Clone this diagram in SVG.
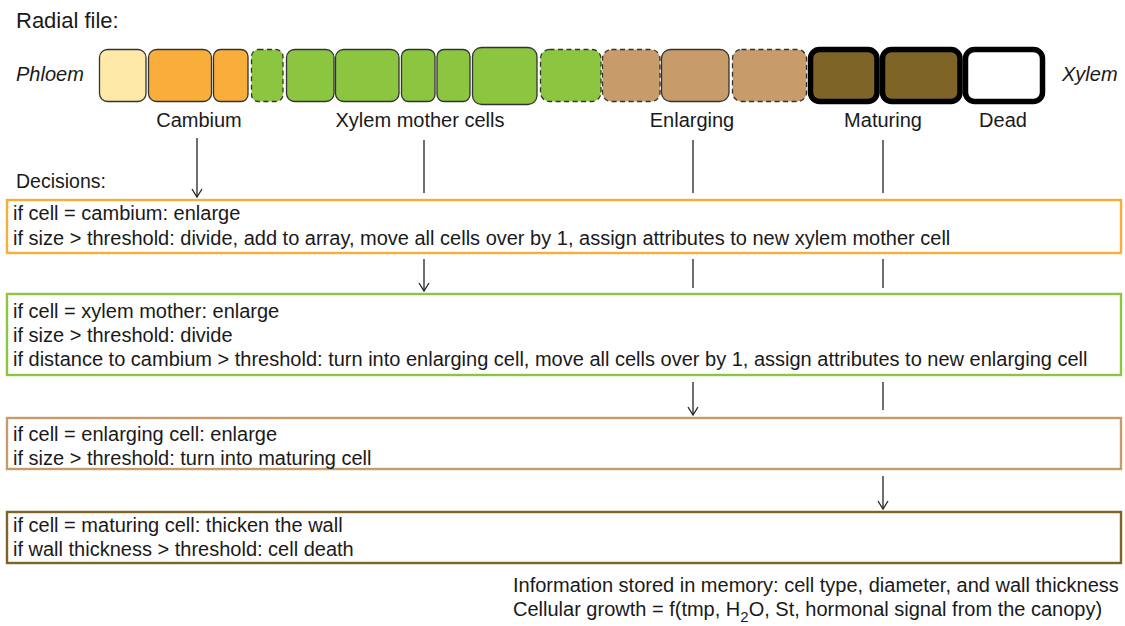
<svg xmlns="http://www.w3.org/2000/svg" width="1125" height="626" viewBox="0 0 1125 626">
  <defs>
    <marker id="arrow" viewBox="0 0 12 12" refX="11" refY="6" markerWidth="12" markerHeight="12" markerUnits="userSpaceOnUse" orient="auto">
      <path d="M3,1 L11,6 L3,11" fill="none" stroke="#222" stroke-width="1.3"/>
    </marker>
    <style>
      text { font-family: "Liberation Sans", Arial, Helvetica, sans-serif; fill: #1a1a1a; }
      .title { font-size: 22px; }
      .side { font-size: 20px; font-style: italic; }
      .lab { font-size: 20px; text-anchor: middle; }
      .rule { font-size: 20px; }
      .cell { stroke: #333; stroke-width: 1.3; }
      .dash { stroke-dasharray: 5 3.5; }
      .thick { stroke: #000; stroke-width: 5.5; }
      .ph { fill: #FEE9A8; }
      .ca { fill: #F9AE3B; }
      .xm { fill: #8CC540; }
      .en { fill: #C89B6B; }
      .ma { fill: #7E6426; }
      .de { fill: #FFFFFF; }
      .box { fill: #FFFFFF; stroke-width: 2.4; }
      .conn line { stroke: #222; stroke-width: 1.3; }
    </style>
  </defs>

  <rect width="1125" height="626" fill="#FFFFFF"/>

  <text class="title" x="16" y="28">Radial file:</text>
  <text class="side" x="16" y="81">Phloem</text>
  <text class="side" x="1062" y="81">Xylem</text>

  <!-- radial file of cells, phloem side to xylem side -->
  <g id="file">
    <rect class="cell ph" x="99.5" y="49.5" width="46.5" height="52" rx="8"/>
    <rect class="cell ca" x="148.5" y="49.5" width="63" height="52" rx="8"/>
    <rect class="cell ca" x="213.5" y="49.5" width="34.5" height="52" rx="7"/>
    <rect class="cell xm dash" x="251.5" y="49.5" width="31.5" height="52" rx="7"/>
    <rect class="cell xm" x="286.5" y="49.5" width="47.5" height="52" rx="8"/>
    <rect class="cell xm" x="335.5" y="49.5" width="63.5" height="52" rx="8"/>
    <rect class="cell xm" x="401.5" y="49.5" width="33.5" height="52" rx="7"/>
    <rect class="cell xm" x="437" y="49.5" width="33" height="52" rx="7"/>
    <rect class="cell xm" x="472.5" y="47.5" width="64.5" height="57" rx="9"/>
    <rect class="cell xm dash" x="540.5" y="49.5" width="60.5" height="52" rx="9"/>
    <rect class="cell en dash" x="602.5" y="49.5" width="57.5" height="52" rx="9"/>
    <rect class="cell en" x="661.5" y="49.5" width="67.5" height="52" rx="9"/>
    <rect class="cell en dash" x="732.5" y="49.5" width="74" height="52" rx="9"/>
    <rect class="thick ma" x="810.5" y="49.5" width="66.5" height="52" rx="9"/>
    <rect class="thick ma" x="882.5" y="49.5" width="77.5" height="52" rx="9"/>
    <rect class="thick de" x="965.5" y="49.5" width="77" height="52" rx="9"/>
  </g>

  <g id="stage-labels">
    <text class="lab" x="199" y="127">Cambium</text>
    <text class="lab" x="420" y="127">Xylem mother cells</text>
    <text class="lab" x="692" y="127">Enlarging</text>
    <text class="lab" x="883" y="127">Maturing</text>
    <text class="lab" x="1003" y="127">Dead</text>
  </g>

  <text class="rule" x="16" y="188" style="font-size:19.5px">Decisions:</text>

  <!-- connectors: stage columns running down through the decision boxes -->
  <g id="connectors" class="conn">
    <line x1="197" y1="138" x2="197" y2="197" marker-end="url(#arrow)"/>
    <line x1="424" y1="140" x2="424" y2="193"/>
    <line x1="693" y1="140" x2="693" y2="193"/>
    <line x1="883" y1="140" x2="883" y2="193"/>

    <line x1="424" y1="259" x2="424" y2="291" marker-end="url(#arrow)"/>
    <line x1="693" y1="259" x2="693" y2="288"/>
    <line x1="883" y1="259" x2="883" y2="288"/>

    <line x1="693" y1="382" x2="693" y2="415" marker-end="url(#arrow)"/>
    <line x1="883" y1="382" x2="883" y2="410"/>

    <line x1="883" y1="476" x2="883" y2="509" marker-end="url(#arrow)"/>
  </g>

  <g id="cambium-rule">
    <rect class="box" x="7" y="200" width="1114" height="53" stroke="#F9AE3B"/>
    <text class="rule" x="13" y="220">if cell = cambium: enlarge</text>
    <text class="rule" x="13" y="245">if size &gt; threshold: divide, add to array, move all cells over by 1, assign attributes to new xylem mother cell</text>
  </g>

  <g id="xylem-mother-rule">
    <rect class="box" x="7" y="294" width="1114" height="81" stroke="#8CC540"/>
    <text class="rule" x="13" y="318">if cell = xylem mother: enlarge</text>
    <text class="rule" x="13" y="342">if size &gt; threshold: divide</text>
    <text class="rule" x="13" y="366">if distance to cambium &gt; threshold: turn into enlarging cell, move all cells over by 1, assign attributes to new enlarging cell</text>
  </g>

  <g id="enlarging-rule">
    <rect class="box" x="7" y="418" width="1114" height="51" stroke="#C89B6B"/>
    <text class="rule" x="13" y="441">if cell = enlarging cell: enlarge</text>
    <text class="rule" x="13" y="465">if size &gt; threshold: turn into maturing cell</text>
  </g>

  <g id="maturing-rule">
    <rect class="box" x="7" y="512" width="1114" height="51" stroke="#7E6426"/>
    <text class="rule" x="13" y="532">if cell = maturing cell: thicken the wall</text>
    <text class="rule" x="13" y="556">if wall thickness &gt; threshold: cell death</text>
  </g>

  <g id="notes">
    <text class="rule" x="513" y="592">Information stored in memory: cell type, diameter, and wall thickness</text>
    <text class="rule" x="513" y="616">Cellular growth = f(tmp, H<tspan dy="6" font-size="15">2</tspan><tspan dy="-6">O, St, hormonal signal from the canopy)</tspan></text>
  </g>
</svg>
